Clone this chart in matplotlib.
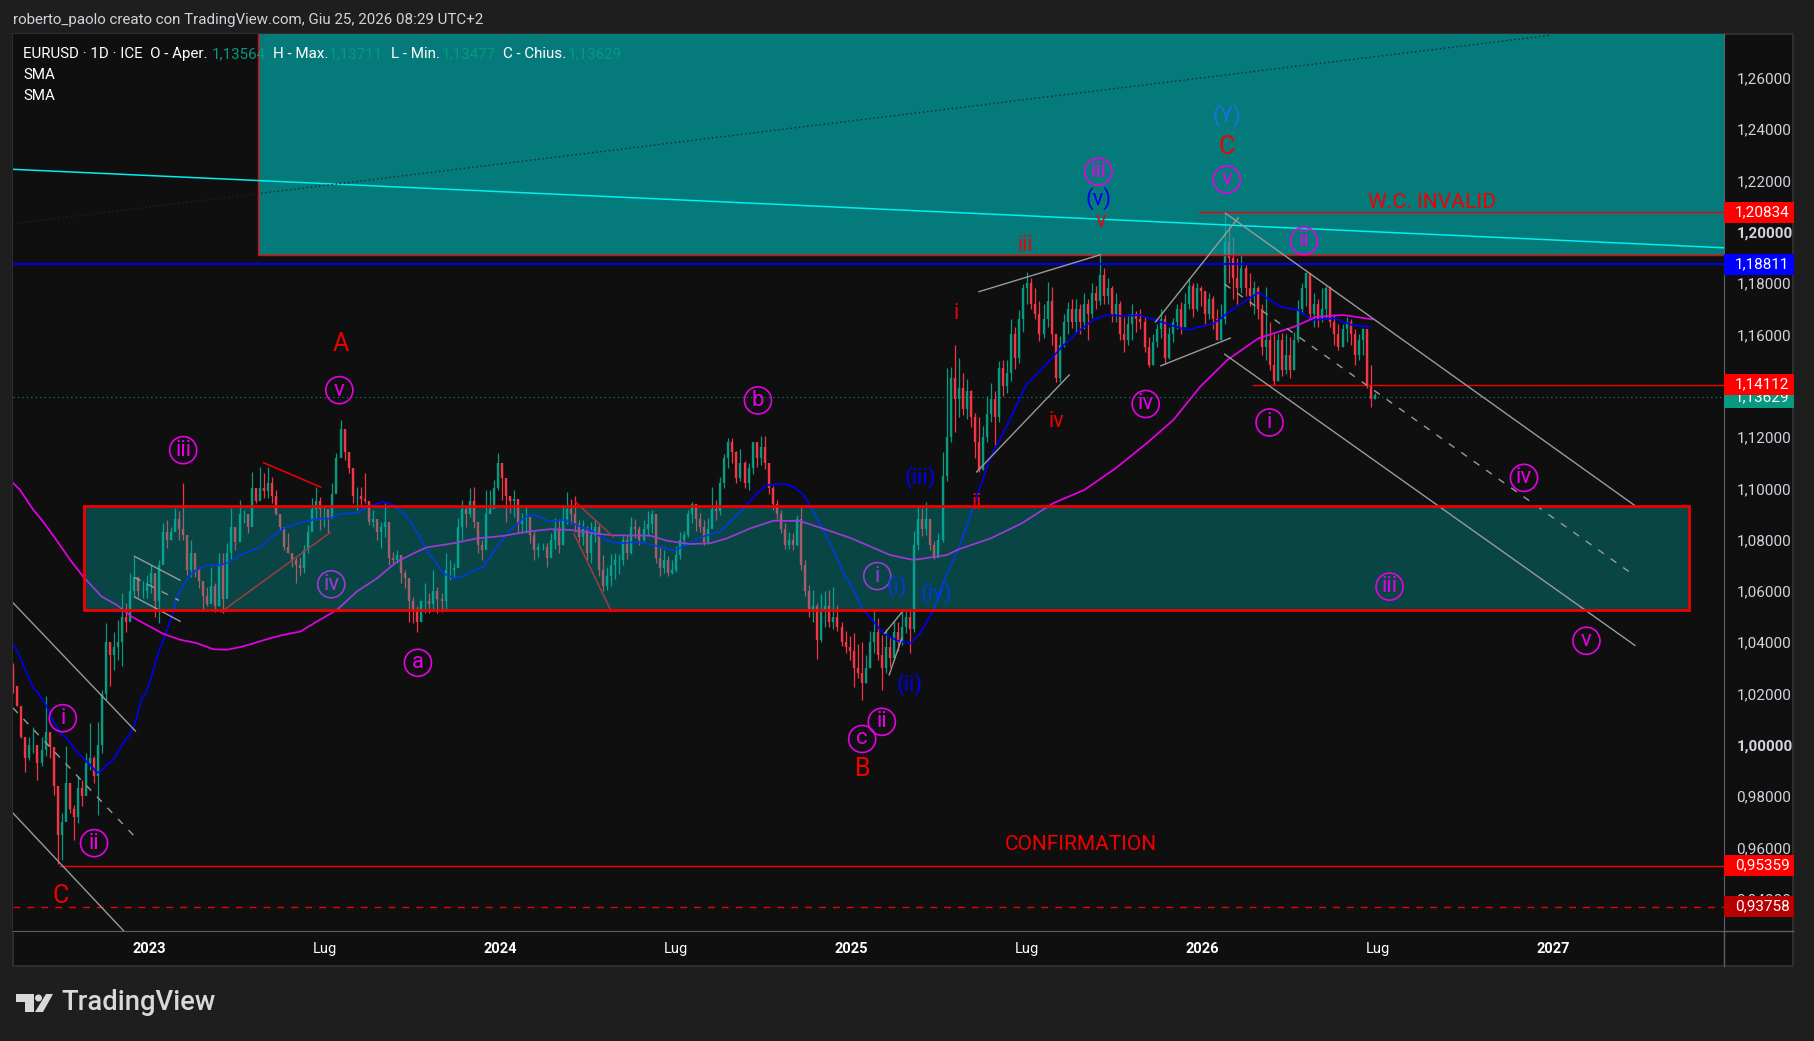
import numpy as np
import matplotlib
matplotlib.use("Agg")
import matplotlib.pyplot as plt
from matplotlib.patches import Rectangle, Polygon, Circle
from matplotlib.lines import Line2D

W, H = 1814, 1041
plt.rcParams["font.family"] = ["Roboto", "DejaVu Sans"]

# daily chart thinned to one candle every 3 sessions
first_bar = 2022.6117
bar_step = 0.011514
first_open = 1.030
closes = [
    1.023, 1.015, 1.003, 0.995, 1.000, 1.000, 0.993, 0.998, 1.005, 0.999,
    0.984, 0.965, 0.970, 0.985, 0.975, 0.972, 0.983, 0.980, 0.993, 0.995,
    0.988, 1.000, 1.020, 1.040, 1.035, 1.038, 1.040, 1.050, 1.048, 1.060,
    1.0656, 1.060, 1.060, 1.063, 1.067, 1.056, 1.070, 1.083, 1.080, 1.083,
    1.088, 1.084, 1.082, 1.068, 1.075, 1.068, 1.064, 1.058, 1.055, 1.062,
    1.054, 1.070, 1.057, 1.075, 1.085, 1.079, 1.090, 1.090, 1.085, 1.100,
    1.095, 1.100, 1.099, 1.102, 1.097, 1.090, 1.085, 1.077, 1.075, 1.072,
    1.070, 1.069, 1.076, 1.083, 1.092, 1.095, 1.092, 1.092, 1.088, 1.098,
    1.112, 1.123, 1.114, 1.108, 1.097, 1.097, 1.096, 1.095, 1.087, 1.088,
    1.083, 1.085, 1.087, 1.073, 1.072, 1.074, 1.067, 1.065, 1.056, 1.053,
    1.048, 1.056, 1.056, 1.055, 1.060, 1.057, 1.056, 1.068, 1.068, 1.069,
    1.085, 1.092, 1.090, 1.095, 1.087, 1.078, 1.076, 1.090, 1.092, 1.100,
    1.110, 1.104, 1.097, 1.095, 1.096, 1.086, 1.088, 1.089, 1.082, 1.076,
    1.077, 1.077, 1.073, 1.080, 1.084, 1.078, 1.088, 1.092, 1.090, 1.086,
    1.081, 1.084, 1.075, 1.082, 1.085, 1.068, 1.062, 1.066, 1.070, 1.072,
    1.072, 1.080, 1.075, 1.085, 1.084, 1.080, 1.084, 1.086, 1.090, 1.073,
    1.069, 1.072, 1.067, 1.068, 1.074, 1.080, 1.082, 1.090, 1.094, 1.088,
    1.085, 1.079, 1.084, 1.092, 1.091, 1.102, 1.112, 1.118, 1.114, 1.104,
    1.110, 1.102, 1.108, 1.118, 1.112, 1.116, 1.110, 1.100, 1.094, 1.090,
    1.084, 1.078, 1.080, 1.078, 1.088, 1.070, 1.060, 1.052, 1.054, 1.041,
    1.052, 1.054, 1.048, 1.050, 1.046, 1.040, 1.038, 1.0365, 1.030, 1.028,
    1.024, 1.030, 1.040, 1.044, 1.035, 1.030, 1.038, 1.034, 1.044, 1.040,
    1.046, 1.050, 1.045, 1.078, 1.088, 1.084, 1.088, 1.078, 1.073, 1.080,
    1.105, 1.120, 1.143, 1.135, 1.139, 1.131, 1.138, 1.128, 1.118, 1.107,
    1.120, 1.129, 1.135, 1.128, 1.147, 1.140, 1.145, 1.160, 1.151, 1.166,
    1.178, 1.180, 1.172, 1.168, 1.160, 1.166, 1.173, 1.160, 1.143, 1.156,
    1.165, 1.170, 1.165, 1.170, 1.165, 1.172, 1.168, 1.176, 1.173, 1.183,
    1.175, 1.178, 1.168, 1.172, 1.160, 1.158, 1.164, 1.168, 1.166, 1.165,
    1.155, 1.148, 1.157, 1.162, 1.166, 1.151, 1.160, 1.165, 1.170, 1.163,
    1.172, 1.179, 1.170, 1.178, 1.177, 1.168, 1.174, 1.166, 1.158, 1.166,
    1.196, 1.190, 1.182, 1.178, 1.186, 1.178, 1.175, 1.178, 1.170, 1.155,
    1.158, 1.148, 1.142, 1.158, 1.146, 1.152, 1.146, 1.158, 1.170, 1.178,
    1.184, 1.168, 1.172, 1.166, 1.170, 1.178, 1.165, 1.160, 1.155, 1.162,
    1.165, 1.160, 1.152, 1.158, 1.162, 1.140, 1.135, 1.1363,
]
highs = [
    1.0319, 1.0228, 1.011, 1.002, 1.003, 1.007, 0.998, 1.003, 1.0189, 1.0026,
    0.9968, 0.981, 0.9734, 0.9994, 0.9838, 0.9767, 0.9877, 0.9864, 0.9968, 1.0085,
    0.9955, 1.009, 1.0215, 1.0475, 1.0403, 1.0442, 1.0487, 1.0591, 1.0552, 1.067,
    1.0734, 1.065, 1.064, 1.0663, 1.0702, 1.0617, 1.0721, 1.0864, 1.0877, 1.0851,
    1.0923, 1.091, 1.102, 1.0793, 1.08, 1.0734, 1.0695, 1.0624, 1.0617, 1.0695,
    1.063, 1.0747, 1.0747, 1.0786, 1.0923, 1.0851, 1.0955, 1.0916, 1.0897, 1.1065,
    1.098, 1.1085, 1.1059, 1.1085, 1.1046, 1.0994, 1.0896, 1.0838, 1.0825, 1.0747,
    1.0734, 1.0734, 1.0779, 1.0857, 1.0961, 1.1007, 1.0968, 1.0929, 1.0903, 1.102,
    1.1137, 1.1267, 1.1228, 1.1137, 1.1072, 1.1007, 1.1007, 1.1059, 1.0942, 1.0916,
    1.0864, 1.087, 1.0942, 1.0786, 1.0753, 1.076, 1.0701, 1.0682, 1.0604, 1.0578,
    1.054, 1.0565, 1.063, 1.0591, 1.0682, 1.0617, 1.0591, 1.0747, 1.0721, 1.0708,
    1.0883, 1.0955, 1.0929, 1.1, 1.1007, 1.0838, 1.0799, 1.0994, 1.0994, 1.1033,
    1.1137, 1.1078, 1.0994, 1.0968, 1.0994, 1.0929, 1.0903, 1.0929, 1.0851, 1.0838,
    1.0786, 1.0786, 1.0786, 1.0825, 1.0885, 1.088, 1.0935, 1.0985, 1.096, 1.097,
    1.0875, 1.0875, 1.0855, 1.087, 1.0875, 1.086, 1.074, 1.0695, 1.0745, 1.075,
    1.0745, 1.0815, 1.082, 1.089, 1.088, 1.0855, 1.0875, 1.091, 1.0915, 1.0895,
    1.0775, 1.076, 1.0735, 1.072, 1.0775, 1.083, 1.0835, 1.0915, 1.0945, 1.0925,
    1.0905, 1.0875, 1.0885, 1.1005, 1.0955, 1.1045, 1.1135, 1.1195, 1.1195, 1.1145,
    1.1155, 1.1105, 1.110, 1.118, 1.1175, 1.1205, 1.1205, 1.1085, 1.101, 1.0955,
    1.0915, 1.0865, 1.083, 1.0825, 1.0895, 1.0935, 1.072, 1.0625, 1.0605, 1.0555,
    1.059, 1.060, 1.0605, 1.0615, 1.0545, 1.048, 1.0445, 1.0425, 1.0435, 1.0395,
    1.040, 1.035, 1.0445, 1.0525, 1.0495, 1.043, 1.045, 1.042, 1.0485, 1.048,
    1.052, 1.0525, 1.0525, 1.0835, 1.0935, 1.0925, 1.0945, 1.087, 1.0795, 1.0825,
    1.114, 1.147, 1.1475, 1.156, 1.151, 1.145, 1.1425, 1.1385, 1.1295, 1.128,
    1.1245, 1.136, 1.141, 1.138, 1.1495, 1.150, 1.150, 1.166, 1.163, 1.1695,
    1.1795, 1.1845, 1.182, 1.178, 1.173, 1.172, 1.1805, 1.1785, 1.1595, 1.1595,
    1.168, 1.1725, 1.174, 1.174, 1.172, 1.176, 1.174, 1.180, 1.179, 1.191,
    1.186, 1.182, 1.179, 1.176, 1.173, 1.167, 1.168, 1.172, 1.169, 1.170,
    1.167, 1.159, 1.160, 1.164, 1.170, 1.1675, 1.163, 1.1665, 1.172, 1.1725,
    1.176, 1.182, 1.180, 1.180, 1.179, 1.177, 1.176, 1.175, 1.170, 1.172,
    1.2072, 1.203, 1.198, 1.190, 1.191, 1.187, 1.184, 1.181, 1.179, 1.172,
    1.1785, 1.165, 1.160, 1.160, 1.1605, 1.160, 1.159, 1.161, 1.1735, 1.180,
    1.1845, 1.182, 1.176, 1.174, 1.178, 1.179, 1.179, 1.168, 1.164, 1.164,
    1.167, 1.166, 1.162, 1.160, 1.1625, 1.161, 1.148, 1.1371,
]
lows = [
    1.0202, 1.015, 1.0026, 0.9896, 0.994, 0.9968, 0.9864, 0.9916, 0.9955, 0.9948,
    0.9805, 0.9535, 0.9552, 0.9747, 0.9734, 0.963, 0.9695, 0.976, 0.981, 0.9903,
    0.985, 0.9727, 0.9968, 1.0176, 1.0228, 1.0293, 1.0332, 1.0306, 1.0442, 1.05,
    1.0578, 1.0578, 1.0572, 1.0572, 1.0591, 1.05, 1.0475, 1.0721, 1.0767, 1.08,
    1.0838, 1.08, 1.08, 1.0663, 1.0656, 1.0656, 1.0611, 1.0526, 1.054, 1.0565,
    1.052, 1.054, 1.0513, 1.063, 1.0721, 1.076, 1.08, 1.0864, 1.0825, 1.0916,
    1.0942, 1.0961, 1.0961, 1.0961, 1.0942, 1.0896, 1.0838, 1.076, 1.0747, 1.0695,
    1.063, 1.0662, 1.0669, 1.0747, 1.0864, 1.0877, 1.0838, 1.0851, 1.0825, 1.0903,
    1.0994, 1.1124, 1.111, 1.1059, 1.0942, 1.0916, 1.0935, 1.0942, 1.0857, 1.0851,
    1.08, 1.0767, 1.0812, 1.0701, 1.0701, 1.0708, 1.063, 1.061, 1.048, 1.0474,
    1.0442, 1.048, 1.0513, 1.0513, 1.0526, 1.0513, 1.052, 1.0526, 1.0643, 1.0656,
    1.0695, 1.0799, 1.0851, 1.089, 1.0844, 1.0747, 1.072, 1.0786, 1.0903, 1.0929,
    1.0994, 1.0955, 1.087, 1.0903, 1.089, 1.0825, 1.0825, 1.0825, 1.0786, 1.072,
    1.0734, 1.076, 1.0695, 1.0753, 1.0765, 1.075, 1.078, 1.086, 1.086, 1.083,
    1.079, 1.078, 1.072, 1.071, 1.079, 1.066, 1.060, 1.0605, 1.062, 1.0645,
    1.0665, 1.070, 1.0725, 1.0745, 1.0805, 1.078, 1.0795, 1.0815, 1.0825, 1.071,
    1.066, 1.067, 1.066, 1.0665, 1.0675, 1.0725, 1.0775, 1.081, 1.0865, 1.0835,
    1.083, 1.078, 1.0785, 1.0875, 1.0875, 1.0895, 1.100, 1.108, 1.110, 1.102,
    1.103, 1.100, 1.0995, 1.1055, 1.1085, 1.109, 1.1075, 1.098, 1.0915, 1.088,
    1.0825, 1.0765, 1.0765, 1.076, 1.0775, 1.068, 1.058, 1.050, 1.048, 1.0335,
    1.040, 1.046, 1.046, 1.045, 1.0445, 1.0385, 1.036, 1.033, 1.0225, 1.026,
    1.0175, 1.024, 1.030, 1.036, 1.033, 1.0215, 1.028, 1.0305, 1.033, 1.0365,
    1.039, 1.0435, 1.036, 1.044, 1.076, 1.0815, 1.082, 1.076, 1.0725, 1.0755,
    1.079, 1.103, 1.118, 1.122, 1.128, 1.1285, 1.127, 1.124, 1.112, 1.1065,
    1.107, 1.118, 1.126, 1.117, 1.126, 1.136, 1.137, 1.142, 1.1465, 1.149,
    1.161, 1.172, 1.170, 1.166, 1.1575, 1.1585, 1.163, 1.156, 1.1415, 1.1415,
    1.155, 1.160, 1.1625, 1.161, 1.160, 1.162, 1.158, 1.1665, 1.170, 1.1715,
    1.172, 1.172, 1.165, 1.165, 1.158, 1.153, 1.156, 1.158, 1.161, 1.162,
    1.153, 1.1475, 1.148, 1.155, 1.1585, 1.1485, 1.1505, 1.157, 1.162, 1.160,
    1.163, 1.170, 1.167, 1.169, 1.171, 1.164, 1.166, 1.162, 1.158, 1.158,
    1.164, 1.180, 1.174, 1.172, 1.176, 1.175, 1.171, 1.168, 1.166, 1.152,
    1.150, 1.146, 1.1403, 1.142, 1.144, 1.1445, 1.143, 1.146, 1.157, 1.168,
    1.171, 1.166, 1.163, 1.163, 1.165, 1.166, 1.163, 1.156, 1.154, 1.155,
    1.157, 1.156, 1.148, 1.150, 1.152, 1.139, 1.1318, 1.1348,
]

# moving averages, decimal year / price
sma_fast_x = [2022.612, 2022.626, 2022.650, 2022.669, 2022.683, 2022.707, 2022.726, 2022.750, 2022.764, 2022.792,
              2022.816, 2022.840, 2022.849, 2022.859, 2022.878, 2022.897, 2022.925, 2022.944, 2022.959, 2022.978,
              2022.992, 2023.011, 2023.030, 2023.044, 2023.063, 2023.078, 2023.092, 2023.120, 2023.144, 2023.172,
              2023.191, 2023.220, 2023.258, 2023.287, 2023.320, 2023.344, 2023.382, 2023.430, 2023.477, 2023.515,
              2023.543, 2023.591, 2023.624, 2023.667, 2023.695, 2023.733, 2023.762, 2023.790, 2023.838, 2023.866,
              2023.895, 2023.923, 2023.952, 2023.990, 2024.028, 2024.066, 2024.094, 2024.142, 2024.180, 2024.218,
              2024.265, 2024.303, 2024.341, 2024.389, 2024.436, 2024.493, 2024.531, 2024.569, 2024.626, 2024.664,
              2024.702, 2024.731, 2024.759, 2024.807, 2024.835, 2024.864, 2024.892, 2024.940, 2024.978, 2024.997,
              2025.035, 2025.092, 2025.130, 2025.168, 2025.196, 2025.234, 2025.272, 2025.307, 2025.358, 2025.397,
              2025.447, 2025.498, 2025.549, 2025.600, 2025.651, 2025.689, 2025.727, 2025.778, 2025.823, 2025.880,
              2025.956, 2026.033, 2026.084, 2026.160, 2026.223, 2026.274, 2026.313, 2026.376, 2026.427, 2026.478]
sma_fast_y = [1.0390, 1.0358, 1.0280, 1.0221, 1.0202, 1.0150, 1.0091, 1.0039, 1.0026, 0.9974,
              0.9942, 0.9909, 0.9893, 0.9893, 0.9922, 0.9942, 1.0007, 1.0039, 1.0085, 1.0182,
              1.0208, 1.0293, 1.0377, 1.0423, 1.0500, 1.0572, 1.0611, 1.0669, 1.0689, 1.0702,
              1.0698, 1.0708, 1.0741, 1.0757, 1.0773, 1.0805, 1.0844, 1.0866, 1.0881, 1.0883,
              1.0900, 1.0905, 1.0929, 1.0948, 1.0935, 1.0890, 1.0831, 1.0760, 1.0669, 1.0650,
              1.0659, 1.0679, 1.0695, 1.0773, 1.0838, 1.0883, 1.0899, 1.0870, 1.0877, 1.0857,
              1.0831, 1.0796, 1.0786, 1.0791, 1.0779, 1.0757, 1.0779, 1.0809, 1.0831, 1.0883,
              1.0935, 1.0981, 1.1013, 1.1017, 1.1007, 1.0974, 1.0909, 1.0786, 1.0669, 1.0630,
              1.0526, 1.0435, 1.0407, 1.0396, 1.0435, 1.0526, 1.0669, 1.0767, 1.0968, 1.1124,
              1.1254, 1.1403, 1.1474, 1.1552, 1.1617, 1.1656, 1.1676, 1.1672, 1.1676, 1.1650,
              1.1617, 1.1643, 1.1695, 1.1763, 1.1708, 1.1695, 1.1656, 1.1663, 1.1637, 1.1630]
sma_slow_x = [2022.612, 2022.631, 2022.669, 2022.693, 2022.731, 2022.774, 2022.811, 2022.864, 2022.906, 2022.949,
              2022.992, 2023.039, 2023.087, 2023.134, 2023.182, 2023.220, 2023.258, 2023.287, 2023.344, 2023.382,
              2023.430, 2023.477, 2023.534, 2023.591, 2023.648, 2023.705, 2023.762, 2023.790, 2023.866, 2023.933,
              2024.009, 2024.075, 2024.142, 2024.199, 2024.265, 2024.322, 2024.427, 2024.474, 2024.541, 2024.598,
              2024.645, 2024.712, 2024.778, 2024.854, 2024.930, 2024.997, 2025.111, 2025.177, 2025.272, 2025.307,
              2025.397, 2025.486, 2025.575, 2025.664, 2025.753, 2025.842, 2025.918, 2025.994, 2026.071, 2026.160,
              2026.262, 2026.325, 2026.402, 2026.484]
sma_slow_y = [1.1020, 1.0994, 1.0916, 1.0877, 1.0806, 1.0721, 1.0656, 1.0578, 1.0546, 1.0500,
              1.0468, 1.0433, 1.0410, 1.0397, 1.0373, 1.0371, 1.0381, 1.0392, 1.0416, 1.0429,
              1.0442, 1.0481, 1.0526, 1.0598, 1.0649, 1.0714, 1.0753, 1.0770, 1.0786, 1.0805,
              1.0815, 1.0831, 1.0841, 1.0838, 1.0825, 1.0817, 1.0816, 1.0796, 1.0783, 1.0786,
              1.0805, 1.0844, 1.0874, 1.0873, 1.0838, 1.0807, 1.0740, 1.0721, 1.0740, 1.0763,
              1.0805, 1.0864, 1.0942, 1.0994, 1.1078, 1.1176, 1.1267, 1.1396, 1.1500, 1.1585,
              1.1630, 1.1669, 1.1676, 1.1659]

# axis labels
year_ticks = [2023.0, 2023.5, 2024.0, 2024.5, 2025.0, 2025.5, 2026.0, 2026.5, 2027.0]
year_labels = ["2023", "Lug", "2024", "Lug", "2025", "Lug", "2026", "Lug", "2027"]
price_ticks = [0.94, 0.96, 0.98, 1.00, 1.02, 1.04, 1.06, 1.08, 1.10, 1.12, 1.16,
               1.18, 1.20, 1.22, 1.24, 1.26]

# horizontal levels
level_confirm = 0.95359
level_stop = 0.93758
level_blue = 1.18811
level_invalid = 1.20834
level_mid = 1.14112
last_price = 1.13629
# the level lines sit a little under the spot the tick text suggests
level_shift = -0.0007

# gray channels and wedges: (x0, y0, x1, y1)
gray_lines = [
    (2022.611, 1.0554, 2022.960, 1.0054), (2022.611, 0.9734, 2022.927, 0.9274),
    (2022.957, 1.0735, 2023.087, 1.0642), (2022.957, 1.0577, 2023.087, 1.0482),
    (2025.364, 1.1767, 2025.710, 1.1911), (2025.357, 1.1064, 2025.621, 1.1442),
    (2025.867, 1.1649, 2026.103, 1.2055), (2025.882, 1.1478, 2026.080, 1.1586),
    (2026.066, 1.2073, 2027.233, 1.0933), (2026.064, 1.1523, 2027.233, 1.0388),
    (2025.095, 1.0435, 2025.146, 1.0520), (2025.108, 1.0273, 2025.144, 1.0416),
]
gray_dashed = [
    (2022.611, 1.0144, 2022.954, 0.9648), (2022.957, 1.0653, 2023.084, 1.0563),
    (2026.064, 1.1796, 2027.230, 1.0662),
]
red_lines = [
    (2023.325, 1.1100, 2023.488, 1.1005), (2023.204, 1.0518, 2023.514, 1.0827),
    (2024.213, 1.0948, 2024.322, 1.0811), (2024.210, 1.0822, 2024.316, 1.0520),
]

# wave counts
circle_labels = ["i", "ii", "iii", "iv", "v", "a", "b", "c", "ii", "i", "iii", "iv", "v", "ii", "i", "iv", "iii", "v"]
circle_x = [2022.753, 2022.842, 2023.096, 2023.518, 2023.541, 2023.765, 2024.734, 2025.031, 2025.087,
            2025.074, 2025.704, 2025.839, 2026.070, 2026.290, 2026.192, 2026.917, 2026.534, 2027.095]
circle_y = [1.0104, 0.9617, 1.1149, 1.0626, 1.1383, 1.0320, 1.1343, 1.0023, 1.0090,
            1.0658, 1.2235, 1.1329, 1.2204, 1.1965, 1.1257, 1.1041, 1.0617, 1.0406]
circle_muted = [3, 9]

red_labels = ["A", "C", "B", "C", "v", "iii", "i", "ii", "iv"]
red_x = [2023.544, 2022.746, 2025.034, 2026.070, 2025.710, 2025.496, 2025.298, 2025.357, 2025.585]
red_y = [1.1564, 0.9410, 0.9905, 1.2330, 1.2041, 1.1947, 1.1681, 1.0942, 1.1262]

blue_labels = ["(Y)", "(v)", "(iii)", "(i)", "(iv)", "(ii)"]
blue_x = [2026.070, 2025.704, 2025.196, 2025.130, 2025.242, 2025.166]
blue_y = [1.2452, 1.2132, 1.1041, 1.0617, 1.0590, 1.0234]

legend_values = ["1,13564", "1,13711", "1,13477", "1,13629"]

BG = "#1e1e1e"
PANEL = "#0f0f0f"
UP = "#089981"
DOWN = "#f23645"
RED = "#f20000"
MAGENTA = "#e600e6"
BLUE = "#0000f0"
GRAY = "#9a9a9a"
AXIS = "#5d606b"
TXT = "#d1d4dc"


def px(x, y):
    # figure fractions from picture pixels
    return x / W, 1 - y / H


fig = plt.figure(figsize=(W / 100, H / 100), dpi=100, facecolor=BG)
ax_l, ax_r, ax_t, ax_b = 13, 1724, 34, 931
ax = fig.add_axes([ax_l / W, 1 - ax_b / H, (ax_r - ax_l) / W, (ax_b - ax_t) / H], facecolor=PANEL)
fig.add_artist(Rectangle(px(13, 966), (1793 - 13) / W, (966 - 34) / H, transform=fig.transFigure,
                         facecolor=PANEL, edgecolor="#2e2e2e", lw=1.5, zorder=-1))

ax.set_xlim(2022.611, 2027.487)
ax.set_ylim(0.92744, 1.27715)
for side in ["top", "left"]:
    ax.spines[side].set_visible(False)
for side in ["right", "bottom"]:
    ax.spines[side].set_color(AXIS)
ax.yaxis.tick_right()
ax.set_yticks(price_ticks)
ax.set_yticklabels(["{:.5f}".format(p).replace(".", ",") for p in price_ticks], fontsize=11, color=TXT)
for lab, p in zip(ax.get_yticklabels(), price_ticks):
    if p in (1.00, 1.20):
        lab.set_fontweight("bold")
ax.set_xticks(year_ticks)
ax.set_xticklabels(year_labels, fontsize=10.5, color="white")
for lab, name in zip(ax.get_xticklabels(), year_labels):
    if name != "Lug":
        lab.set_fontweight("bold")
ax.tick_params(axis="y", length=0, pad=9)
ax.tick_params(axis="x", length=0, pad=8)

# candles
closes = np.array(closes)
highs = np.array(highs)
lows = np.array(lows)
opens = np.r_[first_open, closes[:-1]]
bar_x = first_bar + np.arange(len(closes)) * bar_step
colors = np.where(closes >= opens, UP, DOWN)
ax.vlines(bar_x, lows, highs, colors=colors, lw=0.9, zorder=2)
ax.vlines(bar_x, np.minimum(opens, closes), np.maximum(opens, closes), colors=colors, lw=1.7, zorder=2.1)

ax.plot(sma_fast_x, sma_fast_y, color=BLUE, lw=1.25, zorder=2.5)
ax.plot(sma_slow_x, sma_slow_y, color=MAGENTA, lw=1.25, zorder=2.5)

for x0, y0, x1, y1 in red_lines:
    ax.plot([x0, x1], [y0, y1], color=RED, lw=1.1, zorder=2.6)

# zones sit over the candles, that is why the bars look washed out inside them
ax.add_patch(Rectangle((2023.310, 1.1911), 2027.487 - 2023.310, 1.27715 - 1.1911, facecolor="#00b4b4",
                       alpha=0.65, lw=0, zorder=3))
ax.plot([2023.310, 2023.310, 2027.487], [1.27715, 1.1911, 1.1911], color=RED, lw=1.0, zorder=3.1)
ax.add_patch(Rectangle((2022.812, 1.0527), 2027.388 - 2022.812, 1.0933 - 1.0527, facecolor="#00b4b4",
                       alpha=0.33, lw=0, zorder=3))
ax.add_patch(Rectangle((2022.812, 1.0527), 2027.388 - 2022.812, 1.0933 - 1.0527, fill=False,
                       edgecolor=RED, lw=2.0, zorder=3.6))

# levels
ax.plot([2022.746, 2027.487], [level_confirm + level_shift] * 2, color=RED, lw=1.0, zorder=3.2)
ax.axhline(level_stop + level_shift, color=RED, lw=1.0, ls=(0, (5, 5)), zorder=3.2)
ax.axhline(level_blue + level_shift, color=BLUE, lw=1.5, zorder=3.2)
ax.plot([2025.990, 2027.487], [level_invalid + level_shift] * 2, color=RED, lw=1.0, zorder=3.2)
ax.plot([2026.145, 2027.487], [level_mid + level_shift] * 2, color=RED, lw=1.0, zorder=3.2)
ax.axhline(last_price + level_shift, color=UP, lw=0.8, ls=(0, (1, 3)), zorder=3.2)
ax.plot([2022.611, 2027.487], [1.2244, 1.1938], color="#00f0f0", lw=1.1, zorder=3.3)
ax.plot([2022.611, 2026.993], [1.2032, 1.2767], color="#222222", lw=1.0, ls=(0, (1, 2)), zorder=3.3)

for x0, y0, x1, y1 in gray_lines:
    ax.plot([x0, x1], [y0, y1], color=GRAY, lw=1.0, zorder=3.4)
for x0, y0, x1, y1 in gray_dashed:
    ax.plot([x0, x1], [y0, y1], color=GRAY, lw=1.0, ls=(0, (5, 6)), zorder=3.4)

# wave labels
for i, (t, x, y) in enumerate(zip(circle_labels, circle_x, circle_y)):
    z = 2.8 if i in circle_muted else 4
    ax.scatter([x], [y], s=380, facecolors="none", edgecolors=MAGENTA, linewidths=1.2, zorder=z)
    ax.text(x, y, t, color=MAGENTA, fontsize=16, ha="center", va="center", zorder=z)
for t, x, y in zip(red_labels, red_x, red_y):
    ax.text(x, y, t, color=RED, fontsize=18 if t.isupper() else 15.5, ha="center", va="center", zorder=4)
for t, x, y in zip(blue_labels, blue_x, blue_y):
    z = 2.8 if t in ("(i)", "(iv)") else 4
    c = "#1f6fe0" if t == "(Y)" else BLUE
    ax.text(x, y, t, color=c, fontsize=16, ha="center", va="center", zorder=z)
ax.text(2026.656, 1.2114, "W.C. INVALID", color=RED, fontsize=15.2, ha="center", va="center", zorder=4)
ax.text(2025.654, 0.9612, "CONFIRMATION", color=RED, fontsize=15, ha="center", va="center", zorder=4)

# price badges on the axis
badges = [(last_price, UP), (level_invalid, "#ff0000"), (level_blue, "#0000ff"), (level_mid, "#ff0000"),
          (level_confirm, "#ff0000"), (level_stop, "#b80000")]
tr = ax.get_yaxis_transform()
for z, (p, c) in enumerate(badges):
    y = p + level_shift
    ax.add_patch(Rectangle((1.0, y - 0.0041), 70 / 1711, 0.0082, transform=tr, facecolor=c, lw=0,
                           clip_on=False, zorder=5 + z))
    ax.text(1 + 11 / 1711, y, "{:.5f}".format(p).replace(".", ","), transform=tr, color="white",
            fontsize=11, va="center", zorder=5 + z, clip_on=False)

# lines running on under the plot area
fig.add_artist(Line2D([1724 / W, 1724 / W], [1 - 931 / H, 1 - 966 / H], color=AXIS, lw=1))
fig.add_artist(Line2D([1724 / W, 1793 / W], [1 - 931 / H, 1 - 931 / H], color=AXIS, lw=1))

# header and legend text
fig.text(*px(13, 20), "roberto_paolo creato con TradingView.com, Giu 25, 2026 08:29 UTC+2", color=TXT,
         fontsize=10.9, va="center")
for x, s, c in [(23, "EURUSD · 1D · ICE  O - Aper.", "white"), (212, legend_values[0], UP),
                (273, "H - Max.", "white"), (329, legend_values[1], UP),
                (391, "L - Min.", "white"), (442, legend_values[2], UP),
                (503, "C - Chius.", "white"), (568, legend_values[3], UP)]:
    fig.text(*px(x, 54), s, color=c, fontsize=10.9, va="center", zorder=5)
fig.text(*px(23, 75), "SMA", color="white", fontsize=10.9, va="center")
fig.text(*px(23, 96), "SMA", color="white", fontsize=10.9, va="center")

# TradingView mark
logo = "#d9d9d9"
for pts in [[(15.6, 994), (33.5, 994), (33.5, 1012), (25, 1012), (25, 1002), (15.6, 1002)],
            [(46, 994), (53, 994), (43, 1012), (35, 1012)]]:
    fig.add_artist(Polygon([px(*p) for p in pts], closed=True, transform=fig.transFigure, facecolor=logo, lw=0))
fig.add_artist(Circle((0, 0), 3.5, facecolor=logo, lw=0,
                      transform=matplotlib.transforms.Affine2D().translate(38.5, H - 998)))
fig.text(*px(61, 1003), "TradingView", color=logo, fontsize=19.7, fontweight="medium", va="center")

fig.savefig("out.png", dpi=100, facecolor=BG)
